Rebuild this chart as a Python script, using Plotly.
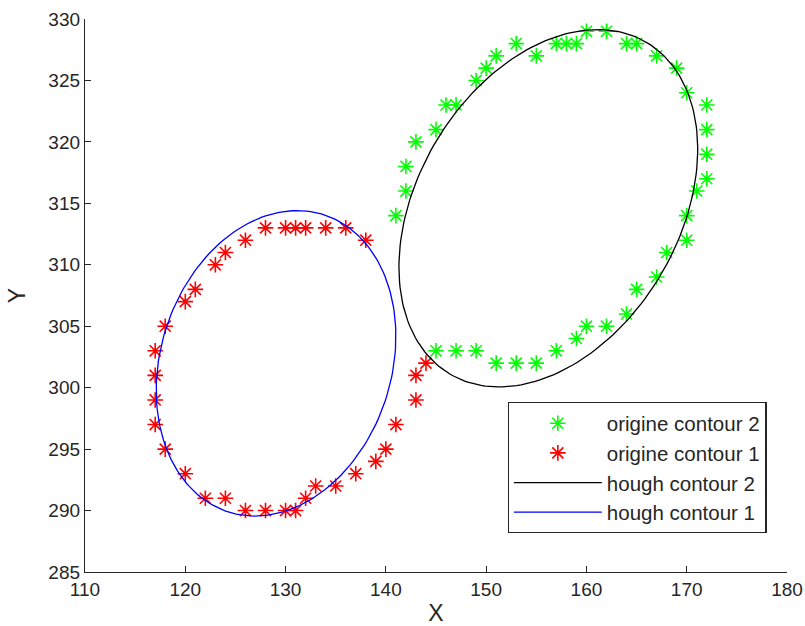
import numpy as np
import plotly.graph_objects as go

# contour points (origine)
c1_x = [117, 117, 117, 117, 118, 120, 122, 124, 126, 128, 130, 131, 132, 133, 135, 137, 139, 140,
        141, 143, 143, 144, 138, 136, 134, 132, 131, 130, 128, 126, 124, 123, 121, 120, 118]
c1_y = [303, 301, 299, 297, 295, 293, 291, 291, 290, 290, 290, 290, 291, 292, 292, 293, 294, 295,
        297, 299, 301, 302, 312, 313, 313, 313, 313, 313, 313, 312, 311, 310, 308, 307, 305]

c2_x = [141, 142, 142, 143, 145, 146, 147, 149, 150, 151, 153, 155, 157, 158, 159, 160, 162, 164,
        165, 167, 169, 170, 172, 172, 172, 172, 171, 170, 170, 168, 167, 165, 164, 162, 160, 159,
        157, 155, 153, 151, 149, 147, 145]
c2_y = [314, 316, 318, 320, 321, 323, 323, 325, 326, 327, 328, 327, 328, 328, 328, 329, 329, 328,
        328, 327, 326, 324, 323, 321, 319, 317, 316, 314, 312, 311, 309, 308, 306, 305, 305, 304,
        303, 302, 302, 302, 303, 303, 303]

# hough ellipses: centre x, centre y, semi-axis a, semi-axis b, angle (deg)
hough1 = [129.05, 301.98, 13.24, 11.04, 51.3]
hough2 = [156.2, 314.6, 16.98, 12.04, 42.9]


def ellipse(p, n=200):
    cx, cy, a, b, ang = p
    t = np.linspace(0, 2 * np.pi, n)
    th = np.radians(ang)
    x = cx + a * np.cos(th) * np.cos(t) - b * np.sin(th) * np.sin(t)
    y = cy + a * np.sin(th) * np.cos(t) + b * np.cos(th) * np.sin(t)
    return x, y


fig = go.Figure()

fig.add_trace(go.Scatter(x=c2_x, y=c2_y, mode='markers', name='origine contour 2',
                         marker=dict(symbol='asterisk-open', size=13, color='#00ff00',
                                     line=dict(color='#00ff00', width=1.6))))
fig.add_trace(go.Scatter(x=c1_x, y=c1_y, mode='markers', name='origine contour 1',
                         marker=dict(symbol='asterisk-open', size=13, color='#ff0000',
                                     line=dict(color='#ff0000', width=1.6))))

hx2, hy2 = ellipse(hough2)
hx1, hy1 = ellipse(hough1)
fig.add_trace(go.Scatter(x=hx2, y=hy2, mode='lines', name='hough contour 2',
                         line=dict(color='black', width=1.3)))
fig.add_trace(go.Scatter(x=hx1, y=hy1, mode='lines', name='hough contour 1',
                         line=dict(color='blue', width=1.3)))

axis_style = dict(showgrid=False, zeroline=False, showline=True, linecolor='#262626', linewidth=1.3,
                  ticks='inside', ticklen=6, tickcolor='#262626', tickwidth=1.2, automargin=False,
                  tickfont=dict(family='Liberation Sans, Arial', size=19, color='#262626'))

fig.update_layout(
    width=805, height=626,
    paper_bgcolor='white', plot_bgcolor='white',
    margin=dict(l=85, r=18, t=19, b=54),
    font=dict(family='Liberation Sans, Arial', size=19, color='#262626'),
    xaxis=dict(range=[110, 180], dtick=10, title=dict(text='X', standoff=7), **axis_style),
    yaxis=dict(range=[285, 330], dtick=5, title=dict(text='Y', standoff=16), **axis_style),
    legend=dict(x=0.971, y=0.307, xanchor='right', yanchor='top',
                bgcolor='white', bordercolor='#262626', borderwidth=1.2,
                font=dict(size=20.5), tracegroupgap=0, itemwidth=88),
)

# drop the default page margin so the 805x626 figure fills the window exactly
fig.write_html("out.html", config={'displayModeBar': False},
               post_script="document.body.style.margin='0';")
